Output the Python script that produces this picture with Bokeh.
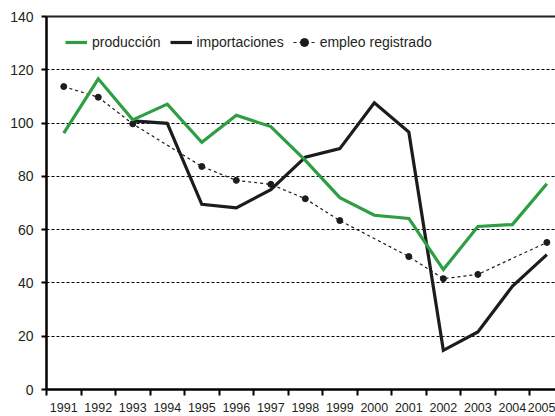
from bokeh.plotting import figure
from bokeh.models import FixedTicker, LinearAxis, Range1d, Legend, LegendItem
from bokeh.embed import file_html
from bokeh.resources import INLINE

years = [1991, 1992, 1993, 1994, 1995, 1996, 1997, 1998, 1999, 2000,
         2001, 2002, 2003, 2004, 2005]
produccion = [96.2, 116.6, 101.2, 107.1, 92.8, 102.9, 98.7, 86.0, 72.0, 65.4,
              64.2, 45.0, 61.2, 61.9, 77.2]
importaciones = [None, None, 100.8, 99.9, 69.5, 68.2, 75.0, 87.2, 90.4, 107.6,
                 96.6, 14.7, 21.6, 38.7, 50.6]
empleo = [113.7, 109.7, 99.7, None, 83.7, 78.5, 77.0, 71.6, 63.4, None,
          49.9, 41.6, 43.2, None, 55.2]
y_ticks = [0, 20, 40, 60, 80, 100, 120, 140]

FONT = "Liberation Sans"
GREEN = "#2e9e42"
DARK = "#1c1c1c"
TXT = "#231f20"

p = figure(width=555, height=416, output_backend="svg", toolbar_location=None,
           x_range=Range1d(1990.5, 2005.25), y_range=Range1d(0, 140),
           min_border_left=46, min_border_right=0, min_border_top=16,
           min_border_bottom=27)
p.outline_line_color = None
p.background_fill_color = "white"
p.border_fill_color = "white"

# axes
xa = p.xaxis[0]
xa.ticker = FixedTicker(ticks=years, minor_ticks=[y - 0.5 for y in years] + [2005.5])
xa.major_tick_line_color = None
xa.major_tick_out = 0
xa.major_tick_in = 0
xa.minor_tick_line_color = "black"
xa.minor_tick_line_width = 2
xa.minor_tick_out = 6
xa.minor_tick_in = 0
xa.axis_line_width = 2.5
xa.axis_line_color = "black"
xa.major_label_text_font = FONT
xa.major_label_text_font_size = "12.5px"
xa.major_label_text_color = TXT
xa.major_label_standoff = 7

ya = p.yaxis[0]
ya.ticker = FixedTicker(ticks=y_ticks, minor_ticks=[])
ya.major_tick_line_color = "black"
ya.major_tick_line_width = 2
ya.major_tick_out = 5
ya.major_tick_in = 0
ya.axis_line_width = 2.5
ya.axis_line_color = "black"
ya.major_label_text_font = FONT
ya.major_label_text_font_size = "14px"
ya.major_label_text_color = TXT
ya.major_label_standoff = 8

top = LinearAxis(ticker=FixedTicker(ticks=[], minor_ticks=[]))
top.axis_line_width = 2
top.axis_line_color = "#222222"
top.major_label_text_font_size = "0px"
top.major_tick_out = 0
top.major_tick_in = 0
top.minor_tick_out = 0
top.major_label_standoff = 0
p.add_layout(top, "above")

p.xgrid.grid_line_color = None
p.ygrid.ticker = FixedTicker(ticks=[20, 40, 60, 80, 100, 120])
p.ygrid.grid_line_color = "black"
p.ygrid.grid_line_dash = "3 2"
p.ygrid.grid_line_width = 1

# data
def pairs(xs, ys):
    out = [(x, y) for x, y in zip(xs, ys) if y is not None]
    return [a for a, _ in out], [b for _, b in out]

ex, ey = pairs(years, empleo)
r_emp_line = p.line(ex, ey, line_color=DARK, line_width=1.2, line_dash="3 3")
r_emp_dot = p.scatter(ex, ey, size=6, color=DARK)

ix, iy = pairs(years, importaciones)
r_imp = p.line(ix, iy, line_color=DARK, line_width=3.2, line_join="miter")

r_prod = p.line(years, produccion, line_color=GREEN, line_width=3.2, line_join="miter")

legend = Legend(items=[
    LegendItem(label="producción", renderers=[r_prod]),
    LegendItem(label="importaciones", renderers=[r_imp]),
    LegendItem(label="empleo registrado", renderers=[r_emp_line, r_emp_dot]),
], orientation="horizontal", location=(19, 337))
legend.border_line_color = None
legend.background_fill_alpha = 0
legend.padding = 0
legend.margin = 0
legend.spacing = 9
legend.glyph_width = 22
legend.glyph_height = 20
legend.label_standoff = 5
legend.label_text_font = FONT
legend.label_text_font_size = "14px"
legend.label_text_color = TXT
p.add_layout(legend, "center")

open("out.html", "w").write(file_html(p, INLINE))
